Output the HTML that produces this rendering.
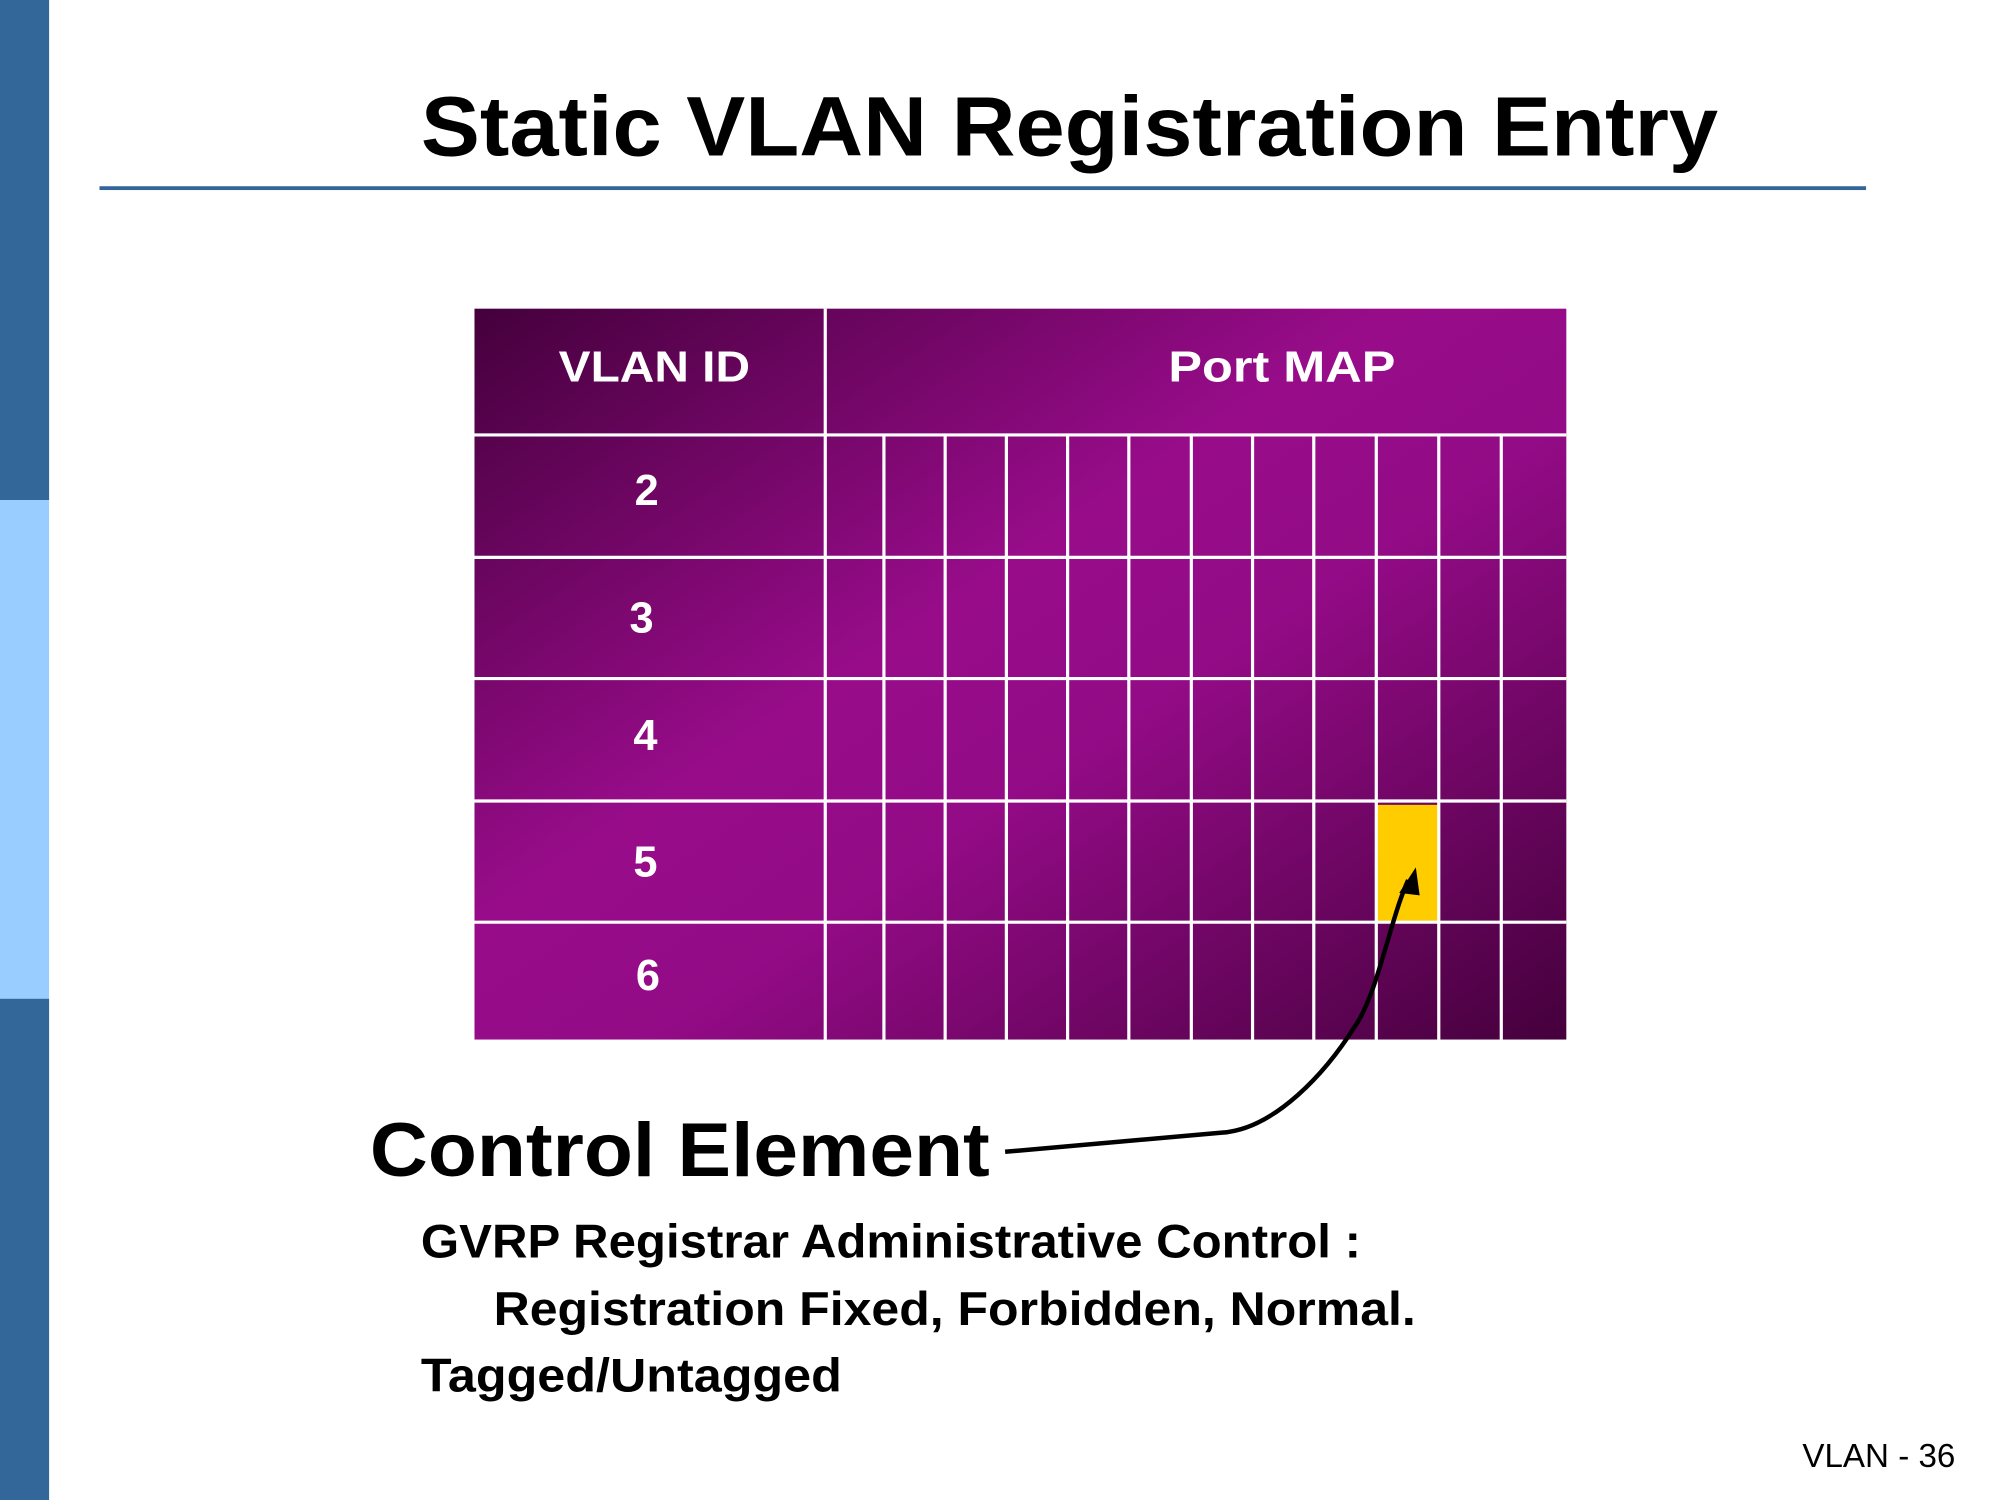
<!DOCTYPE html>
<html><head><meta charset="utf-8"><style>html,body{margin:0;padding:0;background:#fff;overflow:hidden}svg{display:block}</style></head><body>
<svg width="2000" height="1500" viewBox="0 0 1568 1176" preserveAspectRatio="none" xmlns="http://www.w3.org/2000/svg" font-family="Liberation Sans, sans-serif">
<defs>
<linearGradient id="g" x1="535" y1="133" x2="1065" y2="924" gradientUnits="userSpaceOnUse">
<stop offset="0" stop-color="#45003c"/><stop offset="0.42" stop-color="#980c8a"/><stop offset="0.58" stop-color="#930b86"/><stop offset="1" stop-color="#45003c"/>
</linearGradient>
</defs>
<rect x="0" y="0" width="38.5" height="392" fill="#336699"/>
<rect x="0" y="392" width="38.5" height="391" fill="#99ccff"/>
<rect x="0" y="783" width="38.5" height="393" fill="#336699"/>
<text x="330" y="122" font-size="66" font-weight="bold" textLength="1017" lengthAdjust="spacingAndGlyphs">Static VLAN Registration Entry</text>
<rect x="78" y="146" width="1385" height="3" fill="#336699"/>
<rect x="372" y="242" width="856" height="573" fill="url(#g)"/>
<rect x="1080" y="631" width="48" height="91" fill="#ffcc00"/>
<g stroke="#fff" stroke-width="2.5" fill="none">
<line x1="647" y1="242" x2="647" y2="815"/>
<line x1="372" y1="341" x2="1228" y2="341"/>
<line x1="372" y1="437" x2="1228" y2="437"/>
<line x1="372" y1="532" x2="1228" y2="532"/>
<line x1="372" y1="628" x2="1228" y2="628"/>
<line x1="372" y1="723" x2="1228" y2="723"/>
<line x1="693" y1="341" x2="693" y2="815"/>
<line x1="741" y1="341" x2="741" y2="815"/>
<line x1="789" y1="341" x2="789" y2="815"/>
<line x1="837" y1="341" x2="837" y2="815"/>
<line x1="885" y1="341" x2="885" y2="815"/>
<line x1="934" y1="341" x2="934" y2="815"/>
<line x1="982" y1="341" x2="982" y2="815"/>
<line x1="1030" y1="341" x2="1030" y2="815"/>
<line x1="1079" y1="341" x2="1079" y2="815"/>
<line x1="1128" y1="341" x2="1128" y2="815"/>
<line x1="1177" y1="341" x2="1177" y2="815"/>
</g>
<g fill="#fff" font-size="34" font-weight="bold" text-anchor="middle">
<text x="513" y="299" textLength="150" lengthAdjust="spacingAndGlyphs">VLAN ID</text>
<text x="1005" y="299" textLength="178" lengthAdjust="spacingAndGlyphs">Port MAP</text>
<text x="507" y="396">2</text>
<text x="503" y="496">3</text>
<text x="506" y="588">4</text>
<text x="506" y="687">5</text>
<text x="508" y="776">6</text>
</g>
<path d="M788 903 L958 888 C1000 885 1040 840 1062 805 C1080 780 1090 720 1104 690" stroke="#000" stroke-width="3.5" fill="none"/>
<polygon points="1110,680 1097,700 1113,702" fill="#000"/>
<text x="290" y="922" font-size="60" font-weight="bold" textLength="486" lengthAdjust="spacingAndGlyphs">Control Element</text>
<g font-size="37" font-weight="bold">
<text x="330" y="986" textLength="737" lengthAdjust="spacingAndGlyphs">GVRP Registrar Administrative Control :</text>
<text x="387" y="1039" textLength="723" lengthAdjust="spacingAndGlyphs">Registration Fixed, Forbidden, Normal.</text>
<text x="330" y="1091" textLength="330" lengthAdjust="spacingAndGlyphs">Tagged/Untagged</text>
</g>
<text x="1533" y="1150" font-size="26" text-anchor="end">VLAN - 36</text>
</svg>
</body></html>
